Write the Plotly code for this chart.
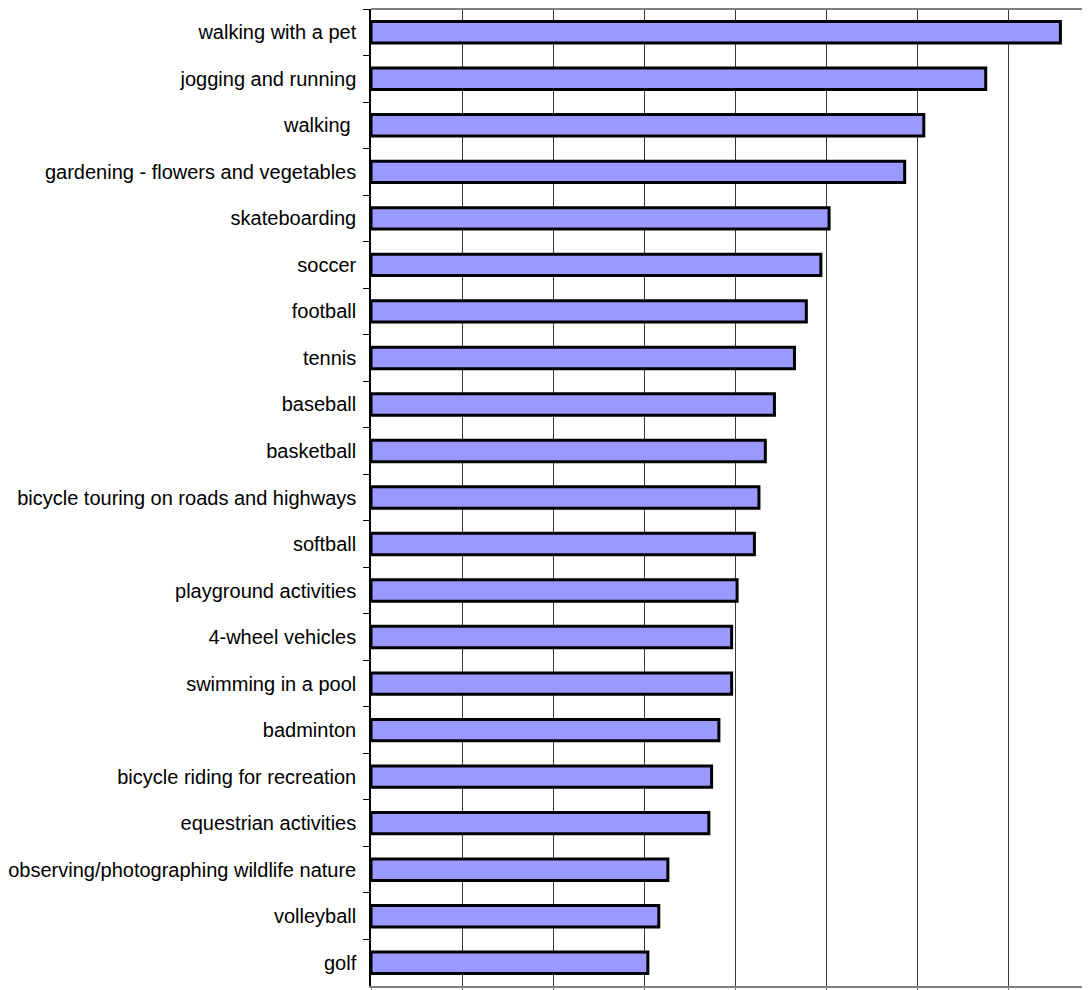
import plotly.graph_objects as go

categories = [
    "walking with a pet",
    "jogging and running",
    "walking ",
    "gardening - flowers and vegetables",
    "skateboarding",
    "soccer",
    "football",
    "tennis",
    "baseball",
    "basketball",
    "bicycle touring on roads and highways",
    "softball",
    "playground activities",
    "4-wheel vehicles",
    "swimming in a pool",
    "badminton",
    "bicycle riding for recreation",
    "equestrian activities",
    "observing/photographing wildlife nature",
    "volleyball",
    "golf",
]
values = [7.57, 6.75, 6.07, 5.86, 5.03, 4.94, 4.78, 4.65, 4.43, 4.33,
          4.26, 4.21, 4.02, 3.96, 3.96, 3.82, 3.74, 3.71, 3.26, 3.16, 3.04]

fig = go.Figure(go.Bar(
    x=values,
    y=categories,
    orientation="h",
    marker=dict(color="#9999FF", line=dict(color="black", width=3)),
))

fig.update_layout(
    width=1082, height=982,
    margin=dict(l=362, r=0, t=1, b=2),
    plot_bgcolor="white", paper_bgcolor="white",
    bargap=0.54,
    showlegend=False,
    font=dict(family="Liberation Sans, Arial, sans-serif", size=20, color="black"),
    shapes=[dict(type="line", xref="paper", yref="paper", x0=0, x1=1, y0=1, y1=1,
                 line=dict(color="#808080", width=2))],
)
fig.update_xaxes(
    range=[0, 7.895], dtick=1, showgrid=True, gridcolor="#383838", gridwidth=1,
    showticklabels=False, zeroline=False, showline=True, linecolor="#808080",
    linewidth=2, ticks="outside", ticklen=4, tickcolor="#808080",
)
fig.update_yaxes(
    autorange="reversed", showgrid=False, showline=True, linecolor="black",
    linewidth=1.5, ticks="outside", tickson="boundaries", ticklen=6,
    tickcolor="black", ticklabelstandoff=9,
    tickfont=dict(family="Liberation Sans, Arial, sans-serif", size=20, color="black"),
)

fig.write_html("out.html")
